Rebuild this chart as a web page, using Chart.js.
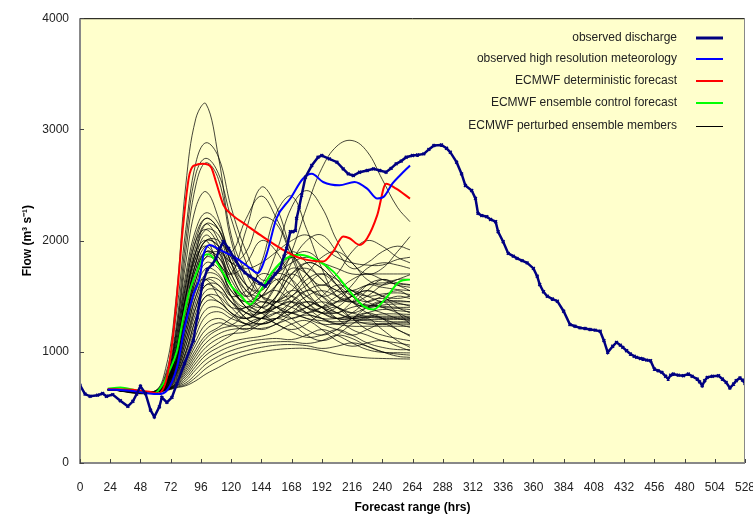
<!DOCTYPE html>
<html>
<head>
<meta charset="utf-8">
<script src="https://cdn.jsdelivr.net/npm/chart.js@4.4.0/dist/chart.umd.min.js"></script>
<style>
  body { margin: 0; background: #fff; }
  canvas { display: block; }
</style>
</head>
<body>
<canvas id="flowChart" width="753" height="518"></canvas>
<script>
// axis ticks
const hourTicks = [0, 24, 48, 72, 96, 120, 144, 168, 192, 216, 240, 264, 288, 312, 336, 360, 384, 408, 432, 456, 480, 504, 528];
const flowTicks = [0, 1000, 2000, 3000, 4000];

// observed discharge
const obsHours = [0, 4, 8, 14, 18, 21, 26, 32, 38, 42, 45, 48, 52, 56, 59, 63, 65, 69, 73, 77, 83, 90, 93, 97, 101, 105, 108, 111, 114, 118, 122, 127, 131, 135, 139, 143, 147, 150, 155, 159, 162, 164, 167, 169, 171, 172, 174, 176, 179, 184, 189, 192, 198, 204, 209, 213, 217, 222, 228, 233, 238, 243, 247, 251, 255, 259, 264, 268, 273, 277, 281, 287, 291, 294, 299, 303, 306, 311, 314, 316, 319, 323, 326, 330, 332, 336, 340, 344, 347, 351, 355, 360, 363, 365, 368, 371, 375, 379, 384, 389, 393, 397, 401, 405, 409, 413, 416, 419, 423, 426, 429, 431, 434, 437, 440, 442, 445, 447, 450, 453, 456, 459, 462, 465, 467, 469, 471, 475, 479, 483, 486, 490, 492, 494, 496, 498, 502, 507, 510, 513, 516, 519, 521, 524, 526, 528];
const obsFlow = [700, 620, 600, 610, 625, 600, 615, 560, 510, 555, 620, 690, 625, 475, 415, 505, 590, 545, 590, 715, 895, 1100, 1305, 1605, 1740, 1785, 1840, 1930, 1990, 1930, 1850, 1760, 1710, 1680, 1650, 1615, 1590, 1625, 1700, 1755, 1860, 1930, 2080, 2080, 2090, 2200, 2300, 2410, 2570, 2675, 2750, 2765, 2735, 2705, 2645, 2600, 2585, 2615, 2630, 2645, 2630, 2615, 2650, 2690, 2715, 2750, 2765, 2770, 2780, 2820, 2855, 2860, 2830, 2795, 2705, 2600, 2495, 2450, 2380, 2245, 2225, 2215, 2190, 2170, 2080, 1990, 1885, 1860, 1840, 1820, 1800, 1750, 1680, 1605, 1540, 1500, 1475, 1455, 1365, 1245, 1230, 1215, 1210, 1200, 1195, 1185, 1100, 995, 1050, 1085, 1060, 1040, 1010, 980, 960, 950, 940, 935, 925, 920, 845, 830, 815, 780, 755, 790, 800, 790, 785, 800, 780, 755, 730, 695, 740, 770, 780, 785, 755, 725, 675, 710, 740, 765, 745, 715];

// observed high resolution meteorology
const hiresHours = [22, 40, 55, 62, 69, 77, 83, 90, 95, 98, 103, 111, 124, 135, 141, 148, 156, 167, 177, 184, 193, 206, 218, 228, 236, 241, 248, 254, 262];
const hiresFlow = [662, 650, 625, 620, 652, 860, 1217, 1515, 1664, 1872, 1961, 1917, 1842, 1753, 1708, 1872, 2200, 2378, 2556, 2601, 2527, 2497, 2527, 2467, 2378, 2393, 2512, 2586, 2676];

// ECMWF deterministic forecast
const detHours = [22, 45, 55, 62, 69, 74, 78, 82, 87, 92, 98, 104, 108, 114, 121, 132, 143, 159, 175, 193, 201, 209, 214, 222, 228, 236, 243, 251, 262];
const detFlow = [665, 655, 640, 625, 770, 1158, 1634, 2150, 2600, 2680, 2690, 2661, 2527, 2318, 2229, 2140, 2051, 1932, 1842, 1812, 1902, 2036, 2021, 1961, 2021, 2229, 2512, 2467, 2378];

// ECMWF ensemble control forecast
const ctrlHours = [22, 32, 45, 59, 66, 71, 77, 82, 87, 93, 99, 102, 108, 116, 121, 127, 135, 143, 153, 164, 175, 190, 201, 214, 225, 233, 243, 254, 262];
const ctrlFlow = [667, 680, 652, 628, 711, 830, 1010, 1306, 1545, 1723, 1872, 1878, 1812, 1664, 1580, 1515, 1426, 1545, 1723, 1842, 1872, 1812, 1723, 1545, 1411, 1381, 1485, 1634, 1649];

// ECMWF perturbed ensemble members (all on the same hours)
const ensHours = [22, 58, 68, 76, 84, 92, 100, 110, 120, 132, 144, 156, 168, 180, 192, 204, 216, 228, 240, 252, 262];
const ens01 = [660, 640, 850, 1450, 2500, 3100, 3230, 2750, 2050, 1700, 1500, 1450, 1500, 1650, 1700, 1600, 1500, 1450, 1500, 1550, 1500];
const ens02 = [660, 640, 800, 1300, 2100, 2700, 2880, 2750, 2300, 1900, 1650, 1700, 1850, 1900, 1800, 1650, 1500, 1400, 1350, 1300, 1280];
const ens03 = [660, 640, 780, 1200, 2000, 2600, 2740, 2600, 2200, 1800, 1500, 1400, 1350, 1400, 1500, 1600, 1550, 1450, 1400, 1350, 1300];
const ens04 = [660, 640, 760, 1150, 1900, 2500, 2700, 2550, 2000, 1600, 1400, 1500, 1700, 1800, 1750, 1600, 1450, 1350, 1300, 1250, 1220];
const ens05 = [660, 640, 750, 1150, 1800, 2300, 2440, 2200, 1800, 1500, 1400, 1350, 1300, 1350, 1400, 1450, 1500, 1550, 1500, 1400, 1350];
const ens06 = [660, 640, 720, 1000, 1500, 1900, 2000, 1800, 1700, 2100, 2480, 2300, 1900, 1600, 1500, 1550, 1650, 1700, 1650, 1600, 1550];
const ens07 = [660, 640, 700, 900, 1300, 1600, 1650, 1500, 1350, 1300, 1400, 1600, 1900, 2300, 2650, 2850, 2900, 2800, 2550, 2300, 2170];
const ens08 = [660, 640, 720, 1000, 1500, 1900, 2150, 2100, 1900, 2200, 2400, 2200, 1900, 1700, 1600, 1700, 1900, 2000, 1950, 1850, 1800];
const ens09 = [660, 640, 710, 950, 1400, 1800, 2000, 1950, 1700, 1500, 1600, 1900, 2300, 2450, 2300, 2000, 1800, 1700, 1750, 1900, 2036];
const ens10 = [660, 640, 700, 900, 1300, 1700, 1900, 1850, 1600, 1400, 1300, 1500, 1800, 2000, 2050, 1900, 1750, 1800, 1900, 1950, 1917];
const ens11 = [660, 640, 740, 1100, 1700, 2100, 2250, 2150, 1850, 1600, 1550, 1700, 1650, 1500, 1400, 1450, 1600, 1750, 1800, 1780, 1750];
const ens12 = [660, 640, 730, 1050, 1600, 2000, 2200, 2100, 1800, 1550, 1450, 1450, 1550, 1700, 1850, 1900, 1800, 1650, 1600, 1650, 1693];
const ens13 = [660, 640, 720, 1000, 1550, 1950, 2150, 2000, 1700, 1500, 1800, 2250, 2400, 2100, 1750, 1500, 1450, 1500, 1600, 1650, 1650];
const ens14 = [660, 640, 710, 980, 1500, 1900, 2100, 2050, 1800, 1900, 2200, 2150, 1850, 1550, 1400, 1350, 1450, 1600, 1650, 1620, 1604];
const ens15 = [660, 640, 700, 950, 1450, 1850, 2050, 1900, 1600, 1450, 1400, 1500, 1700, 1750, 1650, 1500, 1450, 1550, 1650, 1600, 1580];
const ens16 = [660, 640, 700, 920, 1400, 1800, 2000, 1950, 1750, 1550, 1500, 1600, 1750, 1700, 1550, 1450, 1500, 1600, 1580, 1560, 1550];
const ens17 = [660, 640, 690, 900, 1350, 1750, 1950, 1900, 1650, 1450, 1350, 1400, 1500, 1600, 1700, 1650, 1550, 1500, 1520, 1530, 1515];
const ens18 = [660, 640, 690, 880, 1300, 1700, 1900, 1850, 1700, 1800, 2000, 1900, 1650, 1450, 1350, 1400, 1500, 1550, 1500, 1480, 1500];
const ens19 = [660, 640, 690, 870, 1250, 1650, 1850, 1800, 1600, 1400, 1350, 1450, 1650, 1800, 1750, 1600, 1450, 1400, 1450, 1500, 1480];
const ens20 = [660, 640, 685, 860, 1200, 1600, 1800, 1750, 1550, 1450, 1500, 1700, 1850, 1700, 1500, 1400, 1350, 1400, 1450, 1460, 1450];
const ens21 = [660, 640, 680, 850, 1200, 1550, 1750, 1700, 1500, 1350, 1300, 1350, 1450, 1550, 1600, 1550, 1450, 1400, 1420, 1430, 1420];
const ens22 = [660, 640, 680, 840, 1150, 1500, 1700, 1680, 1500, 1400, 1500, 1650, 1600, 1450, 1350, 1300, 1350, 1450, 1480, 1440, 1411];
const ens23 = [660, 640, 680, 830, 1150, 1500, 1650, 1600, 1450, 1300, 1250, 1300, 1400, 1500, 1550, 1500, 1450, 1420, 1410, 1400, 1400];
const ens24 = [660, 640, 675, 820, 1100, 1450, 1650, 1650, 1500, 1550, 1700, 1650, 1500, 1400, 1350, 1350, 1400, 1420, 1400, 1390, 1380];
const ens25 = [660, 640, 675, 810, 1100, 1400, 1600, 1600, 1450, 1350, 1350, 1450, 1550, 1500, 1400, 1300, 1300, 1350, 1380, 1370, 1360];
const ens26 = [660, 640, 670, 800, 1050, 1400, 1600, 1550, 1400, 1300, 1400, 1600, 1700, 1600, 1450, 1350, 1300, 1320, 1340, 1340, 1336];
const ens27 = [660, 640, 670, 800, 1050, 1350, 1550, 1550, 1450, 1350, 1300, 1300, 1350, 1400, 1450, 1400, 1350, 1320, 1320, 1320, 1320];
const ens28 = [660, 640, 670, 790, 1000, 1300, 1500, 1500, 1400, 1400, 1500, 1550, 1450, 1350, 1300, 1300, 1320, 1310, 1300, 1300, 1300];
const ens29 = [660, 640, 668, 780, 1000, 1300, 1500, 1450, 1350, 1250, 1250, 1300, 1400, 1450, 1400, 1350, 1300, 1290, 1290, 1290, 1290];
const ens30 = [660, 640, 665, 770, 980, 1250, 1450, 1450, 1350, 1300, 1350, 1400, 1350, 1300, 1280, 1270, 1280, 1280, 1270, 1270, 1270];
const ens31 = [660, 640, 665, 760, 950, 1200, 1380, 1400, 1330, 1250, 1300, 1350, 1350, 1300, 1250, 1250, 1260, 1260, 1250, 1250, 1247];
const ens32 = [660, 640, 662, 750, 930, 1150, 1320, 1360, 1300, 1250, 1200, 1250, 1300, 1330, 1300, 1250, 1230, 1230, 1230, 1230, 1230];
const ens33 = [660, 640, 662, 740, 900, 1100, 1250, 1300, 1250, 1200, 1300, 1450, 1500, 1400, 1300, 1250, 1300, 1400, 1450, 1350, 1250];
const ens34 = [660, 640, 660, 730, 880, 1060, 1200, 1260, 1240, 1350, 1450, 1400, 1300, 1200, 1150, 1200, 1300, 1350, 1300, 1200, 1150];
const ens35 = [660, 640, 660, 720, 860, 1020, 1150, 1220, 1300, 1400, 1350, 1250, 1200, 1250, 1350, 1400, 1300, 1200, 1150, 1120, 1100];
const ens36 = [660, 640, 660, 715, 840, 990, 1120, 1200, 1230, 1240, 1300, 1400, 1450, 1350, 1250, 1200, 1150, 1200, 1250, 1200, 1140];
const ens37 = [660, 640, 660, 710, 820, 960, 1080, 1160, 1200, 1210, 1210, 1250, 1350, 1450, 1400, 1300, 1200, 1150, 1100, 1080, 1060];
const ens38 = [660, 640, 658, 705, 800, 930, 1040, 1120, 1160, 1180, 1250, 1300, 1250, 1150, 1100, 1150, 1250, 1300, 1200, 1100, 1040];
const ens39 = [660, 640, 658, 700, 780, 900, 1000, 1080, 1150, 1250, 1300, 1250, 1180, 1130, 1150, 1200, 1150, 1080, 1040, 1020, 1020];
const ens40 = [660, 640, 655, 695, 760, 870, 970, 1040, 1090, 1120, 1140, 1180, 1250, 1280, 1200, 1100, 1050, 1080, 1100, 1050, 1009];
const ens41 = [660, 640, 655, 690, 740, 840, 930, 1000, 1050, 1090, 1110, 1120, 1110, 1150, 1200, 1150, 1080, 1020, 995, 992, 990];
const ens42 = [660, 640, 655, 685, 720, 800, 890, 960, 1010, 1050, 1080, 1090, 1090, 1075, 1100, 1150, 1120, 1050, 1000, 980, 970];
const ens43 = [660, 640, 652, 680, 705, 770, 850, 920, 970, 1010, 1040, 1060, 1065, 1055, 1030, 1050, 1080, 1050, 1000, 960, 950];
const ens44 = [660, 640, 650, 675, 695, 740, 800, 860, 920, 970, 1000, 1020, 1030, 1030, 1010, 980, 960, 945, 940, 937, 935];
const ens45 = [660, 640, 700, 950, 1400, 1750, 1900, 1800, 1500, 1300, 1250, 1300, 1450, 1550, 1500, 1400, 1300, 1250, 1250, 1260, 1260];
const ens46 = [660, 640, 720, 1050, 1600, 2000, 2100, 1950, 1600, 1400, 1350, 1400, 1450, 1400, 1350, 1300, 1300, 1310, 1310, 1310, 1310];
const ens47 = [660, 640, 730, 1100, 1650, 2050, 2200, 2100, 1800, 1600, 1500, 1450, 1400, 1350, 1400, 1500, 1550, 1500, 1450, 1450, 1450];
const ens48 = [660, 640, 710, 1000, 1500, 1850, 1950, 1800, 1550, 1450, 1550, 1750, 1900, 1800, 1650, 1550, 1550, 1600, 1620, 1610, 1600];
const ens49 = [660, 640, 700, 960, 1400, 1800, 2000, 2000, 1850, 1700, 1600, 1700, 1800, 1850, 1800, 1750, 1700, 1700, 1700, 1700, 1700];
const ens50 = [660, 640, 690, 900, 1300, 1650, 1850, 1900, 1800, 1750, 1800, 1900, 2000, 2050, 1950, 1850, 1800, 1780, 1780, 1830, 1850];
const ensembleMembers = [ens01, ens02, ens03, ens04, ens05, ens06, ens07, ens08, ens09, ens10,
  ens11, ens12, ens13, ens14, ens15, ens16, ens17, ens18, ens19, ens20,
  ens21, ens22, ens23, ens24, ens25, ens26, ens27, ens28, ens29, ens30,
  ens31, ens32, ens33, ens34, ens35, ens36, ens37, ens38, ens39, ens40,
  ens41, ens42, ens43, ens44, ens45, ens46, ens47, ens48, ens49, ens50];

const legendLabels = [
  "observed discharge",
  "observed high resolution meteorology",
  "ECMWF deterministic forecast",
  "ECMWF ensemble control forecast",
  "ECMWF perturbed ensemble members"
];

const NAVY = "#000080";
const FONT = "'Liberation Sans', Arial, sans-serif";

const toPoints = (xs, ys) => xs.map((x, i) => ({ x: x, y: ys[i] }));

const datasets = [
  {
    label: legendLabels[0],
    data: toPoints(obsHours, obsFlow),
    borderColor: NAVY,
    borderWidth: 2.5,
    pointStyle: "crossRot",
    pointRadius: 2,
    pointBorderColor: NAVY,
    pointBorderWidth: 1.5,
    tension: 0
  },
  {
    label: legendLabels[1],
    data: toPoints(hiresHours, hiresFlow),
    borderColor: "#0000ff",
    borderWidth: 2,
    pointRadius: 0,
    cubicInterpolationMode: "monotone"
  },
  {
    label: legendLabels[2],
    data: toPoints(detHours, detFlow),
    borderColor: "#ff0000",
    borderWidth: 2,
    pointRadius: 0,
    cubicInterpolationMode: "monotone"
  },
  {
    label: legendLabels[3],
    data: toPoints(ctrlHours, ctrlFlow),
    borderColor: "#00ff00",
    borderWidth: 2,
    pointRadius: 0,
    cubicInterpolationMode: "monotone"
  }
];

ensembleMembers.forEach((member, i) => {
  datasets.push({
    label: i === 0 ? legendLabels[4] : "member " + (i + 1),
    data: toPoints(ensHours, member),
    borderColor: "rgba(0,0,0,0.72)",
    borderWidth: 1,
    pointRadius: 0,
    tension: 0.4
  });
});

// plot area fill, frame and inward tick marks like the old Excel chart
const frame = {
  id: "frame",
  beforeDraw(chart) {
    const { ctx, chartArea: a } = chart;
    ctx.save();
    ctx.fillStyle = "#ffffcc";
    ctx.fillRect(a.left, a.top, a.right - a.left, a.bottom - a.top);
    ctx.restore();
  },
  afterDraw(chart) {
    const { ctx, chartArea: a, scales } = chart;
    ctx.save();
    ctx.lineWidth = 1;
    ctx.strokeStyle = "#000";
    ctx.beginPath();
    ctx.moveTo(a.left, a.top + 0.5);
    ctx.lineTo(a.right, a.top + 0.5);
    ctx.stroke();
    ctx.strokeStyle = "#888";
    ctx.beginPath();
    ctx.moveTo(a.right - 0.5, a.top);
    ctx.lineTo(a.right - 0.5, a.bottom);
    ctx.stroke();
    ctx.lineWidth = 2;
    ctx.beginPath();
    ctx.moveTo(a.left, a.top);
    ctx.lineTo(a.left, a.bottom);
    ctx.lineTo(a.right, a.bottom);
    ctx.stroke();
    ctx.lineWidth = 1;
    ctx.strokeStyle = "#444";
    hourTicks.forEach(h => {
      const px = Math.round(scales.x.getPixelForValue(h)) + 0.5;
      ctx.beginPath();
      ctx.moveTo(px, a.bottom);
      ctx.lineTo(px, a.bottom - 4);
      ctx.stroke();
    });
    flowTicks.forEach(v => {
      const py = Math.round(scales.y.getPixelForValue(v)) + 0.5;
      ctx.beginPath();
      ctx.moveTo(a.left, py);
      ctx.lineTo(a.left + 4, py);
      ctx.stroke();
    });

    // legend, text right aligned with the sample on the right
    const rows = [38, 59, 81, 103, 126];
    const colors = [NAVY, "#0000ff", "#ff0000", "#00ff00", "#000"];
    ctx.font = "12px " + FONT;
    ctx.textAlign = "right";
    ctx.textBaseline = "middle";
    legendLabels.forEach((text, i) => {
      ctx.fillStyle = "#222";
      ctx.fillText(text, 677, rows[i]);
      ctx.strokeStyle = colors[i];
      ctx.lineWidth = i === 0 ? 3 : (i === 4 ? 1 : 2);
      const ly = i === 4 ? rows[i] + 0.5 : rows[i];
      ctx.beginPath();
      ctx.moveTo(696, ly);
      ctx.lineTo(723, ly);
      ctx.stroke();
    });
    ctx.restore();
  }
};

new Chart(document.getElementById("flowChart"), {
  type: "line",
  data: { datasets: datasets },
  options: {
    responsive: false,
    animation: false,
    devicePixelRatio: 1,
    layout: { padding: { top: 15, right: 8, left: 0, bottom: 0 } },
    plugins: {
      legend: { display: false },
      tooltip: { enabled: false }
    },
    scales: {
      x: {
        type: "linear",
        min: 0,
        max: 528,
        afterBuildTicks: scale => { scale.ticks = hourTicks.map(v => ({ value: v })); },
        afterFit: scale => { scale.height = 55; scale.paddingLeft = 0; scale.paddingRight = 0; },
        ticks: {
          autoSkip: false,
          maxRotation: 0,
          color: "#222",
          padding: 17,
          font: { family: FONT, size: 12 },
          callback: v => String(v)
        },
        grid: { display: false, drawTicks: false },
        border: { display: false },
        title: {
          display: true,
          text: "Forecast range (hrs)",
          color: "#000",
          padding: { top: 4, bottom: 3 },
          font: { family: FONT, size: 12, weight: "bold" }
        }
      },
      y: {
        min: 0,
        max: 4000,
        afterBuildTicks: scale => { scale.ticks = flowTicks.map(v => ({ value: v })); },
        afterFit: scale => { scale.width = 80; },
        ticks: {
          color: "#222",
          padding: 11,
          font: { family: FONT, size: 12 },
          callback: v => String(v)
        },
        grid: { display: false, drawTicks: false },
        border: { display: false },
        title: {
          display: true,
          text: "Flow (m³ s⁻¹)",
          color: "#000",
          padding: { top: 20, bottom: 0 },
          font: { family: FONT, size: 12, weight: "bold" }
        }
      }
    }
  },
  plugins: [frame]
});
</script>
</body>
</html>
